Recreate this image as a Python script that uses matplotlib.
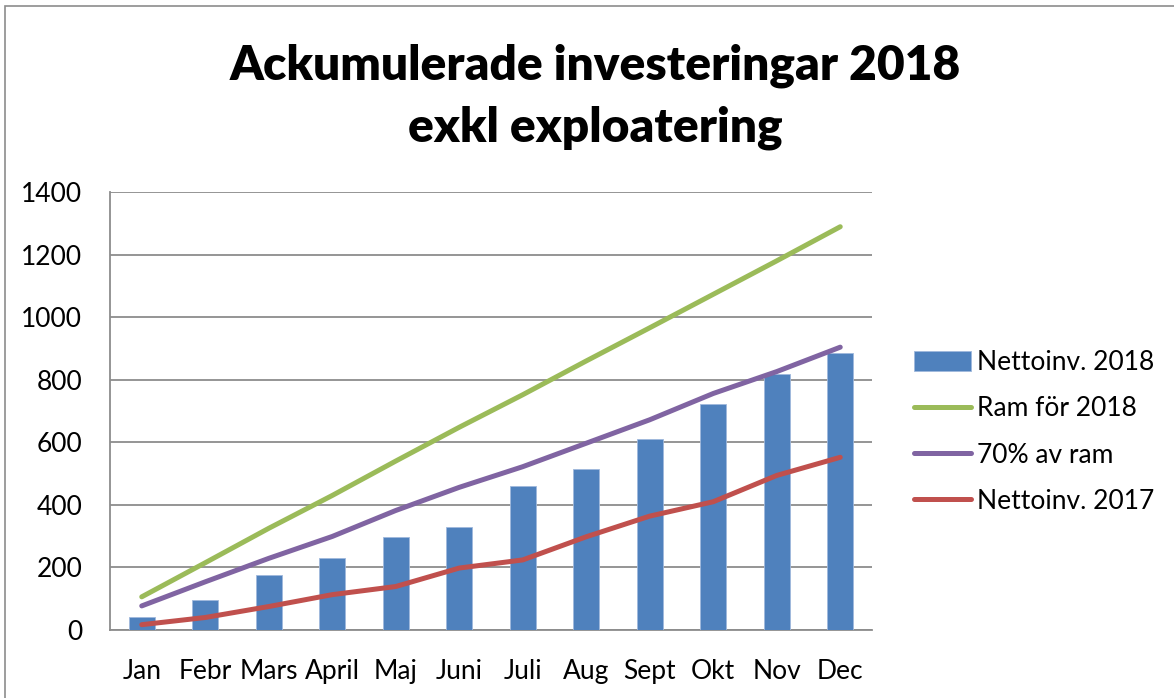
import matplotlib
matplotlib.use("Agg")
import matplotlib.pyplot as plt
from matplotlib.patches import Rectangle
import numpy as np

months = ["Jan", "Febr", "Mars", "April", "Maj", "Juni", "Juli", "Aug", "Sept", "Okt", "Nov", "Dec"]
netto_2018 = [40, 97, 175, 231, 297, 330, 460, 515, 610, 722, 817, 884]
ram_2018 = [106, 215, 325, 430, 540, 648, 752, 860, 966, 1073, 1180, 1289]
ram_70 = [77, 154, 229, 299, 382, 456, 522, 597, 672, 756, 826, 904]
netto_2017 = [17, 40, 75, 113, 139, 198, 224, 298, 364, 410, 494, 552]
yticks = [0, 200, 400, 600, 800, 1000, 1200, 1400]

plt.rcParams['font.family'] = ['Lato', 'DejaVu Sans']

W, H = 1174, 698
fig = plt.figure(figsize=(W / 100, H / 100), dpi=100)
fig.patch.set_facecolor("white")

# outer chart border
fig.add_artist(Rectangle((5 / W, -0.1), 1.2, (H - 6) / H + 0.1, transform=fig.transFigure,
                         fill=False, edgecolor="#8c8c8c", linewidth=1.2))

ax = fig.add_axes([110 / W, 1 - 630 / H, (872 - 110) / W, (630 - 192) / H])
x = np.arange(len(months))

bars = ax.bar(x, netto_2018, width=0.41, color="#4F81BD", edgecolor="#9fb8dc", linewidth=0.6,
              label="Nettoinv. 2018", zorder=3)
l1, = ax.plot(x, ram_2018, color="#9BBB59", lw=3.6, solid_capstyle="round", label="Ram för 2018", zorder=4)
l2, = ax.plot(x, ram_70, color="#8064A2", lw=3.6, solid_capstyle="round", label="70% av ram", zorder=4)
l3, = ax.plot(x, netto_2017, color="#C0504D", lw=3.6, solid_capstyle="round", label="Nettoinv. 2017", zorder=4)

ax.set_xlim(-0.5, 11.5)
ax.set_ylim(0, 1400)
ax.set_yticks(yticks)
ax.set_xticks(x)
ax.set_xticklabels(months)
ax.tick_params(axis="both", length=0, labelsize=19, colors="black")
ax.tick_params(axis="y", pad=20)
ax.tick_params(axis="x", pad=21)
ax.yaxis.grid(True, color="#8c8c8c", linewidth=1.3, zorder=0)
ax.set_axisbelow(True)
for s in ["top", "right"]:
    ax.spines[s].set_visible(False)
for s in ["left", "bottom"]:
    ax.spines[s].set_color("#8c8c8c")
    ax.spines[s].set_linewidth(1.3)

fig.text(595 / W, 1 - 66 / H, "Ackumulerade investeringar 2018", ha="center", va="center",
         fontsize=34.5, fontweight="heavy")
fig.text(595 / W, 1 - 128 / H, "exkl exploatering", ha="center", va="center",
         fontsize=34.5, fontweight="heavy")

leg = ax.legend(handles=[bars, l1, l2, l3], loc="center left", bbox_to_anchor=(914 / W, 1 - 432 / H),
                bbox_transform=fig.transFigure, borderaxespad=0, borderpad=0,
                frameon=False, fontsize=19, handlelength=2.15, handletextpad=0.25, labelspacing=0.8,
                handleheight=0.75)

fig.savefig("out.png", dpi=100)
